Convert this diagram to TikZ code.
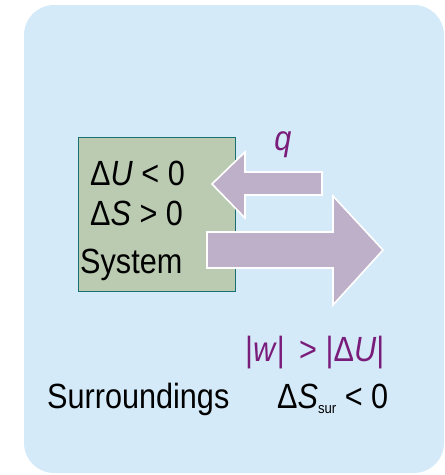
\documentclass[tikz,border=0pt]{standalone}
\usepackage{fontspec}
\setmainfont{Liberation Sans}
\newfontfamily\narrowsans[FakeStretch=0.875]{Liberation Sans}
\definecolor{skyfill}{RGB}{213,234,248}
\definecolor{sysfill}{RGB}{186,203,178}
\definecolor{sysedge}{RGB}{24,112,112}
\definecolor{flowfill}{RGB}{190,176,200}
\definecolor{labelpurple}{RGB}{122,28,122}
\tikzset{
  txt/.style={inner sep=0pt, font=\narrowsans\fontsize{35}{39}\selectfont, text=black},
  plabel/.style={txt, text=labelpurple},
  flowarrow/.style={fill=flowfill, draw=white, line width=1.6pt, line join=miter},
}
\begin{document}
\begin{tikzpicture}[x=1pt,y=-1pt]
\useasboundingbox (0,0) rectangle (445,475);
% surroundings
\fill[skyfill, rounded corners=30pt] (24,5) rectangle (444,473);
% system box
\node[draw=sysedge, fill=sysfill, line width=1.2pt, minimum width=157pt, minimum height=154pt, inner sep=0pt, anchor=north west] (sys) at (78,137) {};
% heat flowing into the system
\path[flowarrow] (212,184) -- (245,152) -- (245,172) -- (322,172) -- (322,195) -- (245,195) -- (245,218) -- cycle;
% work done on the surroundings
\path[flowarrow] (207,232) -- (333,232) -- (333,196) -- (383,250) -- (333,305) -- (333,268) -- (207,268) -- cycle;
% labels
\node[txt, anchor=base west] (du) at (90,185) {Δ\textit{U} < 0};
\node[txt, anchor=base west] (ds) at (90,225) {Δ\textit{S} > 0};
\node[txt, anchor=base west] (sy) at (80,273) {System};
\node[plabel, anchor=base] (q) at (283,150) {\textit{q}};
\node[plabel, anchor=base west] (w) at (245,361) {|\textit{w}|\, > |Δ\textit{U}|};
\node[txt, anchor=base west] (sur) at (47,408) {Surroundings};
\node[txt, anchor=base west] (dss) at (277,408) {Δ\textit{S}\raisebox{-0.3ex}{\fontsize{15}{18}\selectfont sur} < 0};
\end{tikzpicture}
\end{document}
